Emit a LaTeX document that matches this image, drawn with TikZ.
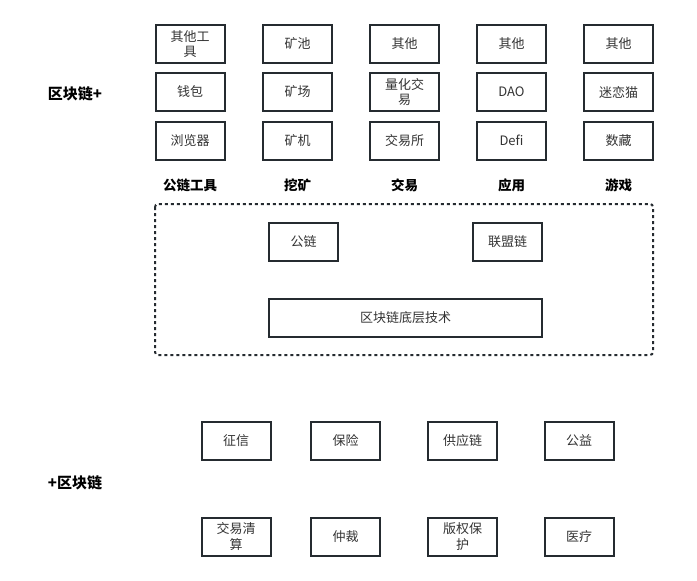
\documentclass[tikz,border=0pt]{standalone}
\usepackage{fontspec}
\setmainfont{Noto Sans CJK SC}
\newfontfamily\cjk{Noto Sans CJK SC}
\definecolor{edge}{HTML}{252B30}
\definecolor{txt}{HTML}{333333}
\tikzset{
  box/.style={draw=edge, line width=2pt, minimum width=69pt, minimum height=38pt, inner sep=1pt,
     align=center, font=\fontsize{13}{15.5}\selectfont\cjk, text=txt},
  cat/.style={font=\fontsize{13.5}{15}\selectfont\cjk\bfseries, text=black},
  side/.style={font=\fontsize{15}{17}\selectfont\cjk\bfseries, text=black},
}
\begin{document}
\begin{tikzpicture}[x=1pt,y=-1pt]
\useasboundingbox (0,0) rectangle (697,581);
% top grid
\node[box] (a1) at (190,44) {其他工\\具};
\node[box] (a2) at (190,92) {钱包};
\node[box] (a3) at (190,140.5) {浏览器};
\node[box] (b1) at (297.5,44) {矿池};
\node[box] (b2) at (297.5,92) {矿场};
\node[box] (b3) at (297.5,140.5) {矿机};
\node[box] (c1) at (404.5,44) {其他};
\node[box] (c2) at (404.5,92) {量化交\\易};
\node[box] (c3) at (404.5,140.5) {交易所};
\node[box] (d1) at (511.5,44) {其他};
\node[box] (d2) at (511.5,92) {DAO};
\node[box] (d3) at (511.5,140.5) {Defi};
\node[box] (e1) at (618.5,44) {其他};
\node[box] (e2) at (618.5,92) {迷恋猫};
\node[box] (e3) at (618.5,140.5) {数藏};
\node[cat] (la) at (190,185) {公链工具};
\node[cat] (lb) at (297.5,185) {挖矿};
\node[cat] (lc) at (404.5,185) {交易};
\node[cat] (ld) at (511.5,185) {应用};
\node[cat] (le) at (618.5,185) {游戏};
\node[side] (top) at (75,94) {区块链+};
% dashed frame
\draw[edge, line width=2pt, dash pattern=on 3pt off 3pt, rounded corners=3pt] (155,204) rectangle (653,355);
\node[box] (pub) at (303.5,241.5) {公链};
\node[box] (con) at (507.5,241.5) {联盟链};
\node[box, minimum width=273pt] (base) at (405.5,318) {区块链底层技术};
% bottom
\node[side] (bot) at (75,483) {+区块链};
\node[box] (f1) at (236,440.5) {征信};
\node[box] (f2) at (345.5,440.5) {保险};
\node[box] (f3) at (462.5,440.5) {供应链};
\node[box] (f4) at (579,440.5) {公益};
\node[box] (g1) at (236,536.5) {交易清\\算};
\node[box] (g2) at (345.5,536.5) {仲裁};
\node[box] (g3) at (462.5,536.5) {版权保\\护};
\node[box] (g4) at (579,536.5) {医疗};
\end{tikzpicture}
\end{document}
